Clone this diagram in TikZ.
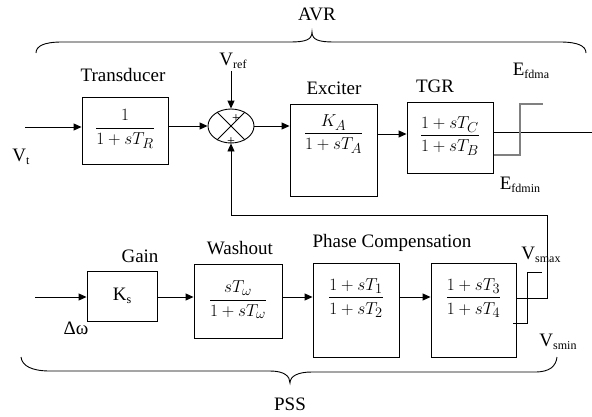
\documentclass[tikz,border=0pt]{standalone}
\usepackage{amsmath}
\usepackage{fontspec}
\setmainfont{Liberation Serif}
\usetikzlibrary{arrows.meta,shapes.geometric}
\newcommand\lsub[1]{\raisebox{-0.3ex}{\fontsize{12}{12}\selectfont #1}}
\begin{document}
\begin{tikzpicture}[x=1pt,y=-1pt,
  every node/.style={font=\fontsize{19}{22}\selectfont, inner sep=0pt},
  blk/.style={draw, line width=0.9pt, fill=white},
  ln/.style={line width=0.9pt},
  arr/.style={line width=0.9pt, -{Triangle[length=8pt,width=7pt]}}]
\useasboundingbox (0,0) rectangle (592,416);

% AVR brace
\node (avr) at (317,14) {AVR};
\draw[ln] (36,53) .. controls (36,46) and (44,42) .. (62,42) -- (290,42) .. controls (305,42) and (312,40) .. (312,32) .. controls (312,40) and (319,42) .. (334,42) -- (560,42) .. controls (578,42) and (586,46) .. (586,53);

% Transducer
\node[blk, minimum width=86pt, minimum height=67pt] (trans) at (125,130.5) {};
\node (transf) at (125,129) {$\dfrac{1}{1+sT_R}$};
\node (transl) at (123,75) {Transducer};
\coordinate (vin) at (25,127);
\draw[arr] (vin) -- (vin -| trans.west);
\node (vt) at (21,157) {V\lsub{t}};

% Summing junction
\node[draw, ellipse, line width=0.9pt, minimum width=46pt, minimum height=34pt] (sum) at (231,126) {};
\draw[line width=0.9pt] (sum.135) -- (sum.-45) (sum.45) -- (sum.-135);
\node[font=\fontsize{14}{14}\selectfont] (p1) at (236,119) {+};
\node[font=\fontsize{14}{14}\selectfont] (p2) at (231,142) {+};
\node (vref) at (233,61) {V\lsub{ref}};
\draw[arr] (sum.north |- vref.south) ++(0,2) -- (sum.north);
\draw[arr] (sum.west -| trans.east) -- (sum.west);

% Exciter
\node[blk, minimum width=87pt, minimum height=92pt] (exc) at (333.5,150) {};
\node (excf) at (333.5,134) {$\dfrac{K_A}{1+sT_A}$};
\node (excl) at (334,88) {Exciter};
\draw[arr] (sum.east) -- (sum.east -| exc.west);

% TGR
\node[blk, minimum width=86pt, minimum height=71pt] (tgr) at (450,137.5) {};
\node (tgrf) at (450,136) {$\dfrac{1+sT_C}{1+sT_B}$};
\node (tgrl) at (435,86) {TGR};
\draw[arr] (excf.east -| exc.east) -- (excf.east -| tgr.west);
\coordinate (avrout) at (592,132);
\draw[ln] (avrout -| tgr.east) -- (avrout);
\draw[gray, line width=1.3pt] (494,155) -- (520,155) -- (520,104) -- (543,104);
\node (efmax) at (531,71) {E\lsub{fdma}};
\node (efmin) at (520,185) {E\lsub{fdmin}};

% PSS row
\node[blk, minimum width=70pt, minimum height=50pt] (gain) at (122,296) {K\lsub{s}};
\node (gainl) at (140,256) {Gain};
\coordinate (win) at (35,297);
\draw[arr] (win) -- (win -| gain.west);
\node (dw) at (76,328) {Δω};

\node[blk, minimum width=88pt, minimum height=74pt] (wash) at (238,301) {};
\node (washf) at (238,300) {$\dfrac{sT_\omega}{1+sT_\omega}$};
\node (washl) at (240,248) {Washout};
\draw[arr] (win -| gain.east) -- (win -| wash.west);

\node[blk, minimum width=86pt, minimum height=94pt] (pc1) at (356,310) {};
\node (pc1f) at (356,298) {$\dfrac{1+sT_1}{1+sT_2}$};
\node[blk, minimum width=85pt, minimum height=94pt] (pc2) at (473.5,310) {};
\node (pc2f) at (473.5,298) {$\dfrac{1+sT_3}{1+sT_4}$};
\node (pcl) at (392,243) {Phase Compensation};
\draw[arr] (win -| wash.east) -- (win -| pc1.west);
\draw[arr] (win -| pc1.east) -- (win -| pc2.west);

% feedback
\coordinate (fbc) at (547,298);
\coordinate (fbr) at (547,215);
\draw[arr] (fbc -| pc2.east) -- (fbc) -- (fbr) -- (fbr -| sum.south) -- (sum.south);
\draw[ln] (513,323) -- (527,323) -- (527,272) -- (542,272);
\node (vsmax) at (541,255) {V\lsub{smax}};
\node (vsmin) at (558,342) {V\lsub{smin}};

% PSS brace
\draw[ln] (21,357) .. controls (22,366) and (32,371) .. (50,371) -- (270,371) .. controls (284,371) and (290,376) .. (290,383) .. controls (290,376) and (298,372) .. (312,372) -- (535,372) .. controls (550,372) and (556,366) .. (557,357);
\node (pss) at (290,404) {PSS};
\end{tikzpicture}
\end{document}
